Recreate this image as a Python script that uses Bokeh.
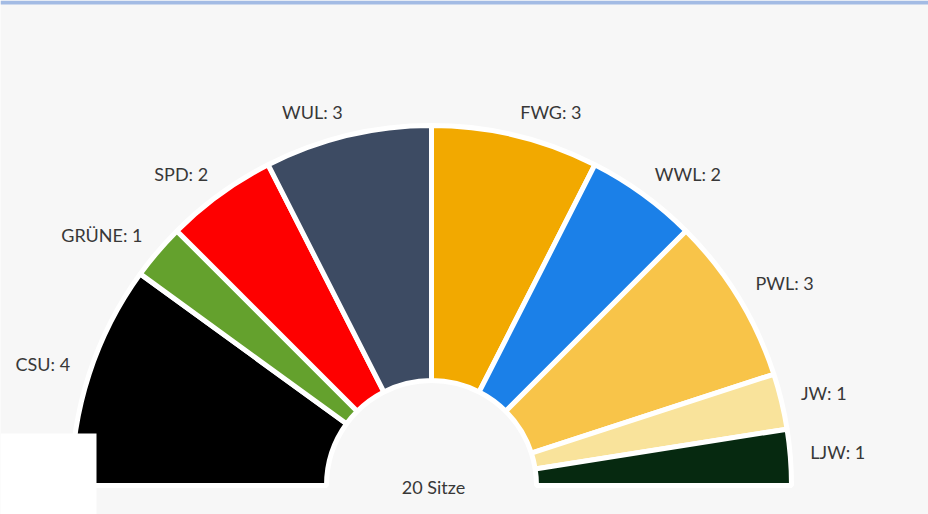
import math
from bokeh.plotting import figure
from bokeh.models import Range1d, ColumnDataSource
from bokeh.core.properties import value
from bokeh.embed import file_html
from bokeh.resources import INLINE

parties = ["CSU", "GRÜNE", "SPD", "WUL", "FWG", "WWL", "PWL", "JW", "LJW"]
seats = [4, 1, 2, 3, 3, 2, 3, 1, 1]
colors = ["#000000", "#64a12d", "#fe0000", "#3d4b63", "#f2a900",
          "#1b80e8", "#f8c449", "#f9e39b", "#062910"]
total_label = "20 Sitze"

W, H = 928, 514
CX, CY = 431, 29          # centre in pixel-like data units
R_OUT, R_IN = 360, 105
R_LAB = 380
LAB_DY = 4

total = sum(seats)
starts, ends, lx, ly, labels, aligns = [], [], [], [], [], []
acc = 0
for name, s in zip(parties, seats):
    a0 = math.pi * (1 - acc / total)
    a1 = math.pi * (1 - (acc + s) / total)
    starts.append(a1)
    ends.append(a0)
    mid = (a0 + a1) / 2
    lx.append(CX + R_LAB * math.cos(mid))
    ly.append(CY + LAB_DY + R_LAB * math.sin(mid))
    labels.append(f"{name}: {s}")
    aligns.append("right" if math.cos(mid) < 0 else "left")
    acc += s

src = ColumnDataSource(dict(start=starts, end=ends, color=colors,
                            x=[CX] * len(seats), y=[CY] * len(seats)))
lab = ColumnDataSource(dict(x=lx, y=ly, text=labels, align=aligns))

p = figure(width=W, height=H, output_backend="svg", toolbar_location=None,
           x_range=Range1d(0, W), y_range=Range1d(0, H), min_border=0,
           background_fill_color="#f7f7f7", border_fill_color="#f7f7f7",
           outline_line_color=None)
p.axis.visible = False
p.grid.visible = False

p.annular_wedge(x="x", y="y", inner_radius=R_IN, outer_radius=R_OUT,
                start_angle="start", end_angle="end", fill_color="color",
                line_color="white", line_width=5, source=src)

p.text(x="x", y="y", text="text", text_align="align", text_baseline="middle",
       text_font=value("Lato"), text_font_size="18px", text_color="#383838",
       source=lab)

p.text(x=[CX + 2], y=[CY - 1], text=[total_label], text_align="center",
       text_baseline="middle", text_font=value("Lato"), text_font_size="18px",
       text_color="#383838")

# white overlay box seen in the lower left corner of the reference
p.quad(left=[0], right=[96], bottom=[0], top=[81], fill_color="white",
       line_color=None)

# thin blue strip at the very top of the reference
p.quad(left=[0], right=[W], bottom=[H - 4], top=[H], fill_color="#a3bbe4",
       line_color=None)

open("out.html", "w").write(file_html(p, INLINE))
